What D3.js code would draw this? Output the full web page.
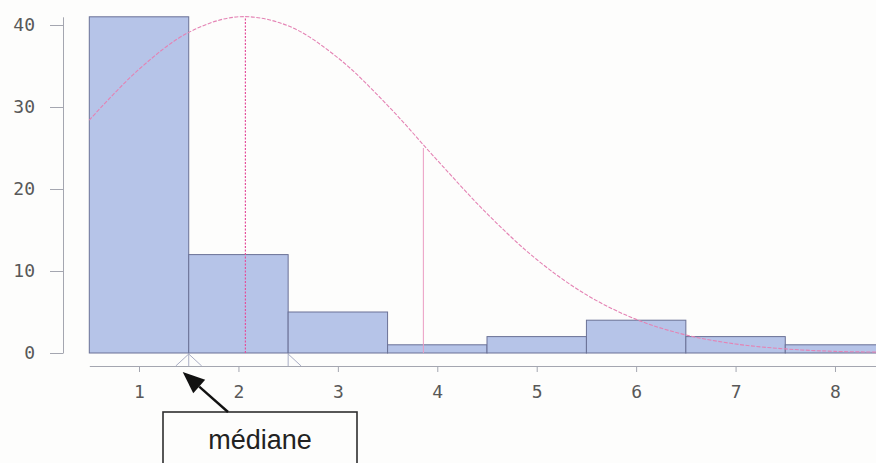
<!DOCTYPE html>
<html>
<head>
<meta charset="utf-8">
<script src="https://cdn.jsdelivr.net/npm/d3@7"></script>
<style>
  body { margin: 0; background: #fdfdfc; }
  svg { display: block; }
  .tick text { font-family: "DejaVu Sans Mono", monospace; font-size: 18px; fill: #585858; }
  .axis path, .axis line { stroke: #a4a6b0; }
</style>
</head>
<body>
<svg id="chart" width="876" height="463"></svg>
<script>
// histogram classes and counts
var classes = [1, 2, 3, 4, 5, 6, 7, 8];
var counts = [41, 12, 5, 1, 2, 4, 2, 1];
var yTicks = [0, 10, 20, 30, 40];

// fitted normal curve
var curveX = [0.5, 1, 1.5, 2, 2.5, 3, 3.5, 4, 4.5, 5, 5.5, 6, 6.5, 7, 7.5, 8, 8.5];
var curveY = [28.4, 34.6, 39.1, 41, 39.9, 36, 30.2, 23.5, 17, 11.4, 7.1, 4.1, 2.2, 1.1, 0.5, 0.2, 0.1];
var meanX = 2.07, meanY = 41;
var sdX = 3.86, sdY = 25;

// marks under the bars
var medianMarks = [{ x: 1.5, legs: [-1, 0, 1] }, { x: 2.5, legs: [0, 1] }];
var noteText = "médiane";

var svg = d3.select("#chart");

var x = d3.scaleLinear().domain([0.5, 8.5]).range([89.3, 884.7]);
var y = d3.scaleLinear().domain([0, 41]).range([353, 16.8]);

// y axis
svg.append("g")
  .attr("class", "axis")
  .attr("transform", "translate(63,0)")
  .call(d3.axisLeft(y).tickValues(yTicks).tickSizeInner(13).tickSizeOuter(0).tickPadding(15));

// x axis
svg.append("g")
  .attr("class", "axis")
  .attr("transform", "translate(0,366)")
  .call(d3.axisBottom(x).tickValues(classes).tickSizeInner(6).tickSizeOuter(0).tickPadding(13));

// bars
svg.append("g").selectAll("rect")
  .data(classes)
  .enter()
  .append("rect")
  .attr("x", d => x(d - 0.5))
  .attr("y", (d, i) => y(counts[i]))
  .attr("width", d => x(d + 0.5) - x(d - 0.5))
  .attr("height", (d, i) => y(0) - y(counts[i]))
  .attr("fill", "#b6c4e8")
  .attr("stroke", "#6a7196")
  .attr("stroke-width", 1);

// normal curve
var line = d3.line()
  .x(d => x(d[0])).y(d => y(d[1]))
  .curve(d3.curveCatmullRom);
svg.append("path")
  .datum(curveX.map((v, i) => [v, curveY[i]]))
  .attr("d", line)
  .attr("fill", "none")
  .attr("stroke", "#e483b4")
  .attr("stroke-width", 1.1)
  .attr("stroke-dasharray", "4,1.5");

// mean and mean + sd
svg.append("line")
  .attr("x1", x(meanX)).attr("x2", x(meanX))
  .attr("y1", y(0)).attr("y2", y(meanY))
  .attr("stroke", "#e4509c").attr("stroke-width", 1.2)
  .attr("stroke-dasharray", "2,1.5");
svg.append("line")
  .attr("x1", x(sdX)).attr("x2", x(sdX))
  .attr("y1", y(0)).attr("y2", y(sdY))
  .attr("stroke", "#eb9cc2").attr("stroke-width", 1);

// median wedges between bars and axis
medianMarks.forEach(function(m) {
  m.legs.forEach(function(l) {
    svg.append("line")
      .attr("x1", x(m.x)).attr("y1", y(0) + 1)
      .attr("x2", x(m.x) + l * 13).attr("y2", 366)
      .attr("stroke", "#a9adc4").attr("stroke-width", 1);
  });
});

// annotation box and arrow
var tipX = x(medianMarks[0].x) - 6, tipY = 372;
var boxL = 163, boxT = 412, boxW = 194;
svg.append("rect")
  .attr("x", boxL).attr("y", boxT)
  .attr("width", boxW).attr("height", 70)
  .attr("fill", "#fdfdfc")
  .attr("stroke", "#2e2e2e").attr("stroke-width", 1.6);
svg.append("text")
  .attr("x", boxL + boxW / 2).attr("y", 449)
  .attr("text-anchor", "middle")
  .style("font-family", "'Liberation Sans', Arial, sans-serif")
  .style("font-size", "27px")
  .style("fill", "#222")
  .text(noteText);

var sx = 228, sy = boxT;
var ang = Math.atan2(sy - tipY, sx - tipX);
var hl = 22, hw = 9;
var bx = tipX + hl * Math.cos(ang), by = tipY + hl * Math.sin(ang);
svg.append("line")
  .attr("x1", sx).attr("y1", sy).attr("x2", bx).attr("y2", by)
  .attr("stroke", "#111").attr("stroke-width", 2.4);
svg.append("path")
  .attr("d", d3.line()([
    [tipX, tipY],
    [bx + hw * Math.sin(ang), by - hw * Math.cos(ang)],
    [bx - hw * Math.sin(ang), by + hw * Math.cos(ang)]
  ]) + "Z")
  .attr("fill", "#111");
</script>
</body>
</html>
